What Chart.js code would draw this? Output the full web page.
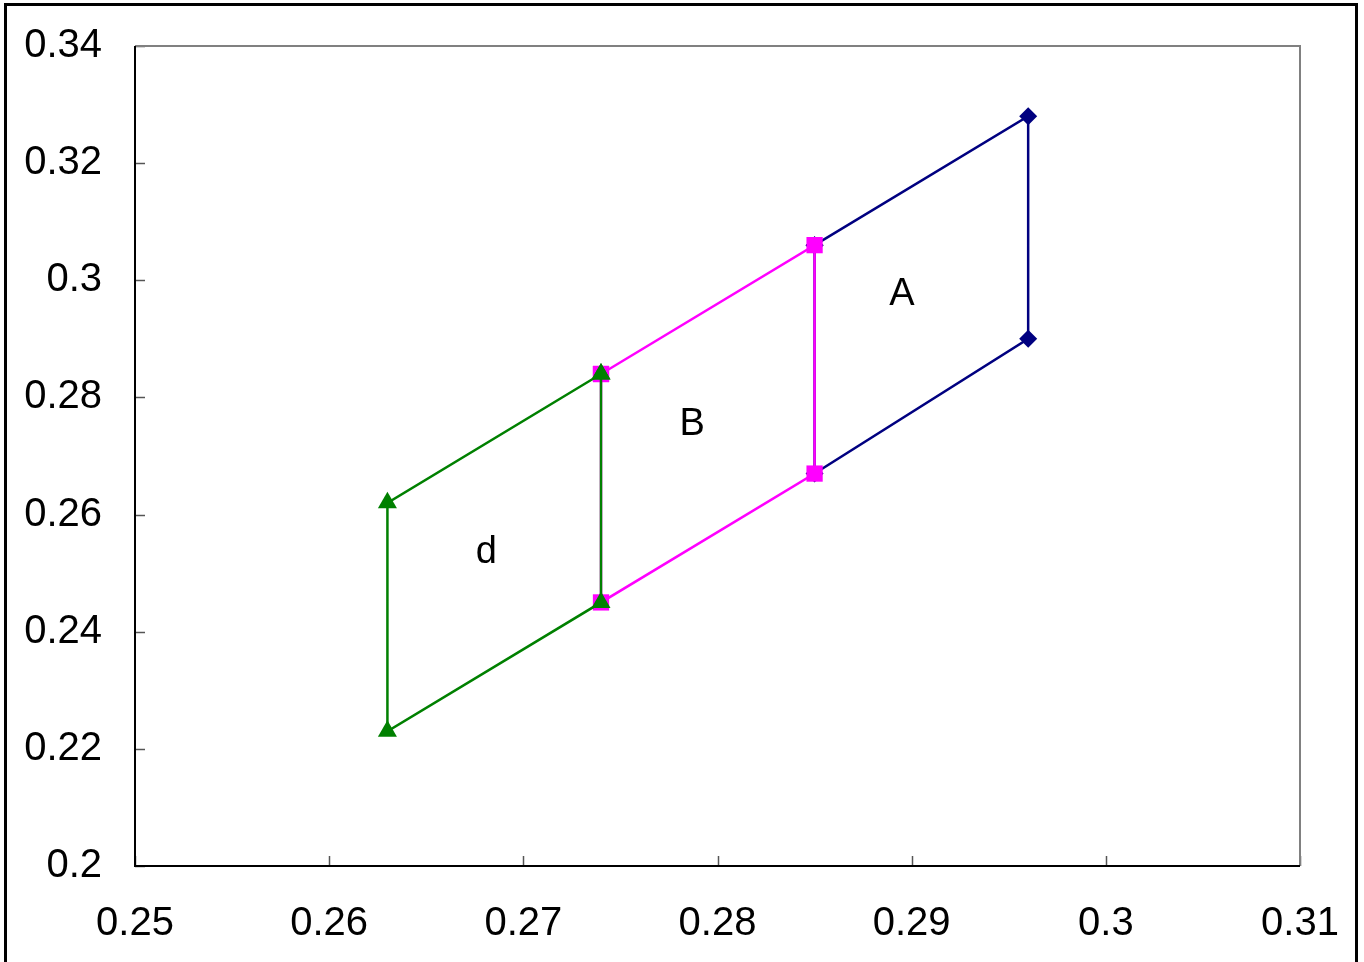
<!DOCTYPE html>
<html>
<head>
<meta charset="utf-8">
<script src="https://cdn.jsdelivr.net/npm/chart.js@4"></script>
<style>
  html, body { margin: 0; padding: 0; background: #fff; }
  #wrap { width: 1364px; height: 962px; }
</style>
</head>
<body>
<div id="wrap"><canvas id="chart" width="1364" height="962"></canvas></div>
<script>
// data
const seriesA_x = [0.285, 0.296, 0.296, 0.285, 0.285];
const seriesA_y = [0.306, 0.328, 0.290, 0.267, 0.306];
const seriesB_x = [0.274, 0.285, 0.285, 0.274, 0.274];
const seriesB_y = [0.284, 0.306, 0.267, 0.245, 0.284];
const seriesD_x = [0.274, 0.263, 0.263, 0.274, 0.274];
const seriesD_y = [0.284, 0.262, 0.223, 0.245, 0.284];

const regionLabels = ['A', 'B', 'd'];
const regionLabelX = [0.2895, 0.2787, 0.2681];
const regionLabelY = [0.2975, 0.2753, 0.2535];

const xTicks = [0.25, 0.26, 0.27, 0.28, 0.29, 0.3, 0.31];
const yTicks = [0.2, 0.22, 0.24, 0.26, 0.28, 0.3, 0.32, 0.34];

const fontFamily = '"Liberation Sans", Arial, sans-serif';

function toPoints(xs, ys) {
    return xs.map((x, i) => ({ x: x, y: ys[i] }));
}

// frame, inward ticks and the A/B/d labels
const decorations = {
    id: 'decorations',
    beforeDatasetsDraw(chart) {
        const { ctx, chartArea: a, scales } = chart;
        ctx.save();
        ctx.strokeStyle = '#555';
        ctx.lineWidth = 1.5;
        xTicks.forEach(v => {
            const px = Math.round(scales.x.getPixelForValue(v)) + 0.5;
            ctx.beginPath();
            ctx.moveTo(px, a.bottom);
            ctx.lineTo(px, a.bottom - 10);
            ctx.stroke();
        });
        yTicks.forEach(v => {
            const py = Math.round(scales.y.getPixelForValue(v)) + 0.5;
            ctx.beginPath();
            ctx.moveTo(a.left, py);
            ctx.lineTo(a.left + 10, py);
            ctx.stroke();
        });
        // plot frame: top/right grey, left/bottom black
        ctx.lineWidth = 2;
        ctx.strokeStyle = '#808080';
        ctx.beginPath();
        ctx.moveTo(a.left, a.top);
        ctx.lineTo(a.right, a.top);
        ctx.lineTo(a.right, a.bottom);
        ctx.stroke();
        ctx.strokeStyle = '#000';
        ctx.beginPath();
        ctx.moveTo(a.left, a.top);
        ctx.lineTo(a.left, a.bottom);
        ctx.lineTo(a.right, a.bottom);
        ctx.stroke();

        ctx.fillStyle = '#000';
        ctx.font = '38px ' + fontFamily;
        ctx.textAlign = 'center';
        ctx.textBaseline = 'middle';
        regionLabels.forEach((t, i) => {
            ctx.fillText(t, scales.x.getPixelForValue(regionLabelX[i]), scales.y.getPixelForValue(regionLabelY[i]));
        });
        ctx.restore();
    },
    afterDraw(chart) {
        const ctx = chart.ctx;
        ctx.save();
        ctx.strokeStyle = '#000';
        ctx.lineWidth = 3;
        ctx.strokeRect(5.5, 4.5, 1351, 1000);
        ctx.restore();
    }
};

new Chart(document.getElementById('chart'), {
    type: 'scatter',
    data: {
        datasets: [{
            label: 'd',
            data: toPoints(seriesD_x, seriesD_y),
            showLine: true,
            borderColor: '#008000',
            backgroundColor: '#008000',
            borderWidth: 2.5,
            pointStyle: 'triangle',
            pointRadius: 11,
            pointBorderWidth: 0,
            tension: 0
        }, {
            label: 'B',
            data: toPoints(seriesB_x, seriesB_y),
            showLine: true,
            borderColor: '#FF00FF',
            backgroundColor: '#FF00FF',
            borderWidth: 2.5,
            pointStyle: 'rect',
            pointRadius: 11.5,
            pointBorderWidth: 0,
            tension: 0
        }, {
            label: 'A',
            data: toPoints(seriesA_x, seriesA_y),
            showLine: true,
            borderColor: '#000080',
            backgroundColor: '#000080',
            borderWidth: 2.5,
            pointStyle: 'rectRot',
            pointRadius: 9,
            pointBorderWidth: 0,
            tension: 0
        }]
    },
    options: {
        responsive: false,
        animation: false,
        layout: { padding: { top: 46, right: 64, left: 0, bottom: 0 } },
        plugins: {
            legend: { display: false },
            tooltip: { enabled: false }
        },
        scales: {
            x: {
                type: 'linear',
                min: 0.25,
                max: 0.31,
                afterFit: s => { s.height = 96; s.paddingLeft = 0; s.paddingRight = 0; },
                afterBuildTicks: s => { s.ticks = xTicks.map(v => ({ value: v })); },
                grid: { display: false, drawTicks: false },
                border: { display: false },
                ticks: {
                    padding: 34,
                    color: '#000',
                    font: { family: fontFamily, size: 40 },
                    callback: v => String(parseFloat(v.toFixed(2)))
                }
            },
            y: {
                type: 'linear',
                min: 0.2,
                max: 0.34,
                afterFit: s => { s.width = 135; s.paddingTop = 0; s.paddingBottom = 0; },
                afterBuildTicks: s => { s.ticks = yTicks.map(v => ({ value: v })); },
                grid: { display: false, drawTicks: false },
                border: { display: false },
                ticks: {
                    padding: 33,
                    color: '#000',
                    font: { family: fontFamily, size: 40 },
                    callback: v => String(parseFloat(v.toFixed(2)))
                }
            }
        }
    },
    plugins: [decorations]
});
</script>
</body>
</html>
